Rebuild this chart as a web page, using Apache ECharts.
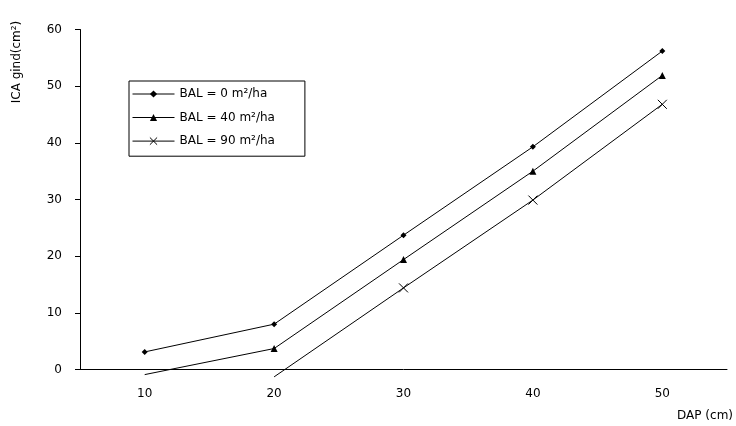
<!DOCTYPE html>
<html>
<head>
<meta charset="utf-8">
<script src="https://cdn.jsdelivr.net/npm/echarts@6/dist/echarts.min.js"></script>
<style>
  html, body { margin: 0; padding: 0; background: #fff; }
  #chart { width: 736px; height: 426px; }
</style>
</head>
<body>
<div id="chart"></div>
<script>
// DAP classes (cm)
const categories = ['10', '20', '30', '40', '50'];

// ICA gind (cm²) for each BAL level
const bal0 = [3.1, 8.0, 23.7, 39.3, 56.2];
const bal40 = [-0.9, 3.7, 19.4, 35.0, 51.9];
const bal90 = [null, -1.3, 14.4, 29.9, 46.8];

const seriesNames = ['BAL = 0 m²/ha', 'BAL = 40 m²/ha', 'BAL = 90 m²/ha'];
const yTicks = [0, 10, 20, 30, 40, 50, 60];

const font = 'DejaVu Sans';

// points under the axis are not marked in the original
function toData(values) {
    return values.map(v => (v !== null && v < 0) ? { value: v, symbol: 'none' } : v);
}

function makeSeries(name, values, symbol, size, extraItem) {
    return {
        name: name,
        type: 'line',
        data: toData(values),
        clip: false,
        symbol: symbol,
        symbolSize: size,
        showAllSymbol: true,
        lineStyle: { color: '#000', width: 1 },
        itemStyle: Object.assign({ color: '#000' }, extraItem || {}),
        emphasis: { disabled: true },
        animation: false
    };
}

const chart = echarts.init(document.getElementById('chart'));

const option = {
    animation: false,
    grid: { left: 80, right: 7, top: 29.5, bottom: 56.5, containLabel: false },
    legend: {
        orient: 'vertical',
        left: 129,
        top: 81,
        padding: [7, 30, 9, 3],
        borderColor: '#000',
        borderWidth: 1,
        itemWidth: 42,
        itemHeight: 9,
        itemGap: 11.5,
        lineStyle: { width: 1 },
        itemStyle: { borderWidth: 1 },
        textStyle: { fontFamily: font, fontSize: 12, color: '#000', lineHeight: 12 },
        data: seriesNames
    },
    xAxis: {
        type: 'category',
        data: categories,
        boundaryGap: true,
        axisLine: { lineStyle: { color: '#000', width: 1 } },
        axisTick: { show: false },
        axisLabel: { color: '#000', fontFamily: font, fontSize: 12, margin: 18 },
        name: 'DAP (cm)',
        nameLocation: 'end',
        nameGap: 6,
        nameTextStyle: {
            color: '#000', fontFamily: font, fontSize: 12,
            align: 'right', verticalAlign: 'top', padding: [40, 0, 0, 0]
        }
    },
    yAxis: {
        type: 'value',
        min: yTicks[0],
        max: yTicks[yTicks.length - 1],
        interval: yTicks[1] - yTicks[0],
        axisLine: { show: true, lineStyle: { color: '#000', width: 1 } },
        axisTick: { show: true, length: 5, lineStyle: { color: '#000' } },
        axisLabel: { color: '#000', fontFamily: font, fontSize: 12, margin: 18 },
        splitLine: { show: false }
    },
    graphic: [{
        type: 'text',
        x: 17,
        y: 62,
        rotation: Math.PI / 2,
        style: {
            text: 'ICA gind(cm²)',
            fill: '#000',
            font: '12px "DejaVu Sans"',
            align: 'center',
            verticalAlign: 'middle'
        }
    }],
    series: [
        makeSeries(seriesNames[0], bal0, 'diamond', 6),
        makeSeries(seriesNames[1], bal40, 'triangle', 7),
        makeSeries(seriesNames[2], bal90, 'path://M0,0L10,10M10,0L0,10', 9,
            { color: 'none', borderColor: '#000', borderWidth: 1 })
    ]
};

chart.setOption(option);
</script>
</body>
</html>
